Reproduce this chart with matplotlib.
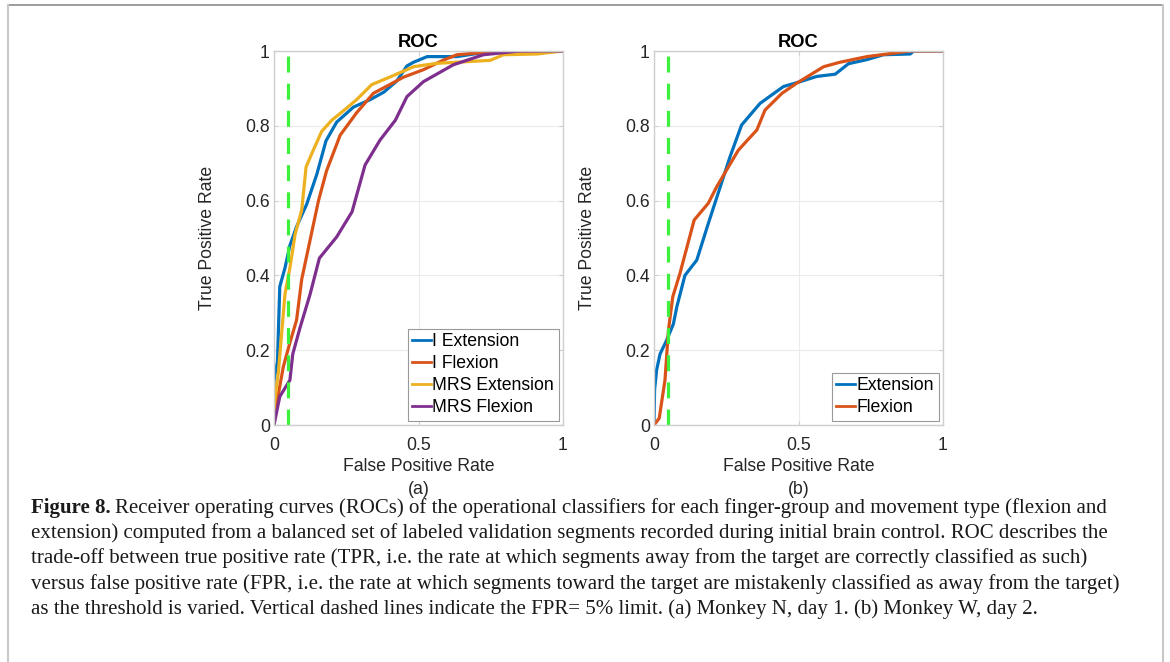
import matplotlib
matplotlib.use('Agg')

import matplotlib.pyplot as plt
from matplotlib.lines import Line2D

plt.rcParams['font.family'] = ['Liberation Sans', 'DejaVu Sans']

# Panel (a): Monkey N, day 1
aIExtFpr = [0, 0, 0.012, 0.02, 0.038, 0.055, 0.078, 0.113, 0.148, 0.18, 0.217, 0.275, 0.333,
            0.38, 0.425, 0.46, 0.483, 0.53, 0.633, 0.725, 1.0]
aIExtTpr = [0, 0.12, 0.17, 0.37, 0.42, 0.48, 0.53, 0.59, 0.67, 0.76, 0.81, 0.85, 0.87,
            0.89, 0.92, 0.96, 0.97, 0.985, 0.985, 0.996, 1.0]

aIFlxFpr = [0, 0.01, 0.032, 0.055, 0.078, 0.096, 0.125, 0.154, 0.182, 0.229, 0.286, 0.344,
            0.4, 0.448, 0.517, 0.587, 0.633, 0.725, 1.0]
aIFlxTpr = [0, 0.06, 0.155, 0.22, 0.28, 0.39, 0.495, 0.60, 0.68, 0.775, 0.835, 0.887,
            0.91, 0.93, 0.95, 0.976, 0.99, 0.996, 1.0]

aMExtFpr = [0, 0, 0.015, 0.027, 0.038, 0.055, 0.073, 0.096, 0.111, 0.136, 0.165, 0.2, 0.24,
            0.286, 0.338, 0.4, 0.483, 0.563, 0.633, 0.748, 0.794, 0.91, 1.0]
aMExtTpr = [0, 0.05, 0.14, 0.25, 0.35, 0.42, 0.51, 0.575, 0.69, 0.735, 0.785, 0.815, 0.84,
            0.87, 0.91, 0.93, 0.958, 0.967, 0.97, 0.975, 0.99, 0.992, 1.0]

aMFlxFpr = [0, 0.02, 0.055, 0.065, 0.09, 0.125, 0.157, 0.217, 0.27, 0.315, 0.367, 0.42,
            0.46, 0.517, 0.62, 0.725, 0.85, 1.0]
aMFlxTpr = [0, 0.076, 0.12, 0.19, 0.26, 0.35, 0.446, 0.503, 0.57, 0.695, 0.762, 0.815,
            0.878, 0.918, 0.963, 0.99, 1.0, 1.0]

# Panel (b): Monkey W, day 2
bExtFpr = [0, 0.002, 0.009, 0.021, 0.044, 0.067, 0.079, 0.107, 0.148, 0.188, 0.263, 0.303,
           0.367, 0.448, 0.506, 0.563, 0.627, 0.673, 0.737, 0.794, 0.887, 0.898, 1.0]
bExtTpr = [0, 0.094, 0.147, 0.19, 0.227, 0.27, 0.316, 0.40, 0.441, 0.539, 0.717, 0.802,
           0.86, 0.905, 0.918, 0.932, 0.938, 0.966, 0.977, 0.99, 0.992, 1.0, 1.0]

bFlxFpr = [0, 0.018, 0.038, 0.05, 0.065, 0.09, 0.139, 0.188, 0.217, 0.292, 0.356, 0.384,
           0.443, 0.494, 0.587, 0.644, 0.737, 0.887, 1.0]
bFlxTpr = [0, 0.018, 0.12, 0.254, 0.343, 0.406, 0.548, 0.593, 0.637, 0.735, 0.789, 0.842,
           0.887, 0.914, 0.958, 0.97, 0.985, 1.0, 1.0]

fprLimit = 0.05

colors = ['#0072BD', '#D95319', '#EDB120', '#7E2F8E']
green = '#3cf03c'

captionLines = [
    'Receiver operating curves (ROCs) of the operational classifiers for each finger-group and movement type (flexion and',
    'extension) computed from a balanced set of labeled validation segments recorded during initial brain control. ROC describes the',
    'trade-off between true positive rate (TPR, i.e. the rate at which segments away from the target are correctly classified as such)',
    'versus false positive rate (FPR, i.e. the rate at which segments toward the target are mistakenly classified as away from the target)',
    'as the threshold is varied. Vertical dashed lines indicate the FPR= 5% limit. (a) Monkey N, day 1. (b) Monkey W, day 2.',
]

fs = 12.7


def styleAxes(ax, sub):
    ax.set_xlim(0, 1)
    ax.set_ylim(0, 1)
    ax.set_xticks([0, 0.5, 1])
    ax.set_xticklabels(['0', '0.5', '1'])
    ax.set_yticks([0, 0.2, 0.4, 0.6, 0.8, 1])
    ax.set_yticklabels(['0', '0.2', '0.4', '0.6', '0.8', '1'])
    ax.grid(True, color='#ebebeb', linewidth=0.8)
    ax.set_axisbelow(True)
    for s in ax.spines.values():
        s.set_color('#cfcfcf')
        s.set_linewidth(1.0)
    ax.tick_params(direction='in', length=3, width=0.8, color='#cfcfcf',
                   labelcolor='#262626', labelsize=fs, top=True, right=True)
    ax.tick_params(axis='x', pad=8.5)
    ax.tick_params(axis='y', pad=3)
    ax.set_title('ROC', fontsize=13.2, fontweight='bold', pad=3)
    ax.set_xlabel('False Positive Rate\n(%s)' % sub, fontsize=fs, color='#262626',
                  labelpad=3, linespacing=1.45)
    ax.set_ylabel('True Positive Rate', fontsize=fs, color='#262626', labelpad=21)


def addLegend(ax):
    leg = ax.legend(loc='lower right', fontsize=fs, handlelength=1.05, handletextpad=0.1,
                    labelspacing=0.28, borderpad=0.25, borderaxespad=0.25, fancybox=False,
                    edgecolor='#9a9a9a', framealpha=1)
    leg.get_frame().set_linewidth(0.8)
    for h in leg.get_lines():
        h.set_linewidth(2.0)


def main():
    fig = plt.figure(figsize=(11.7, 6.62), dpi=100)
    lw = 2.3

    axA = fig.add_axes([274 / 1170, 1 - 425 / 662, 289 / 1170, 374 / 662])
    axA.plot(aIExtFpr, aIExtTpr, color=colors[0], lw=lw, label='I Extension')
    axA.plot(aIFlxFpr, aIFlxTpr, color=colors[1], lw=lw, label='I Flexion')
    axA.plot(aMExtFpr, aMExtTpr, color=colors[2], lw=lw, label='MRS Extension')
    axA.plot(aMFlxFpr, aMFlxTpr, color=colors[3], lw=lw, label='MRS Flexion')
    axA.axvline(fprLimit, color=green, lw=2.3, linestyle=(0, (5, 3.5)))
    styleAxes(axA, 'a')
    addLegend(axA)

    axB = fig.add_axes([654 / 1170, 1 - 425 / 662, 289 / 1170, 374 / 662])
    axB.plot(bExtFpr, bExtTpr, color=colors[0], lw=lw, label='Extension')
    axB.plot(bFlxFpr, bFlxTpr, color=colors[1], lw=lw, label='Flexion')
    axB.axvline(fprLimit, color=green, lw=2.3, linestyle=(0, (5, 3.5)))
    styleAxes(axB, 'b')
    addLegend(axB)

    # Caption.
    capFont = ['Liberation Serif', 'DejaVu Serif']
    capSize = 15.0
    x0 = 31 / 1170
    ys = [508, 533, 558.5, 584, 609]
    renderer = fig.canvas.get_renderer()
    t = fig.text(x0, 1 - ys[0] / 662, 'Figure 8.', family=capFont, fontsize=capSize,
                 fontweight='bold', va='center', color='#1a1a1a')
    bb = t.get_window_extent(renderer)
    fig.text(bb.x1 / 1170 + 4 / 1170, 1 - ys[0] / 662, captionLines[0], family=capFont,
             fontsize=capSize, va='center', color='#1a1a1a')
    for line, y in zip(captionLines[1:], ys[1:]):
        fig.text(x0, 1 - y / 662, line, family=capFont, fontsize=capSize, va='center',
                 color='#1a1a1a')

    # Page frame.
    fig.add_artist(Line2D([7.5 / 1170, 1163 / 1170], [1 - 4.5 / 662, 1 - 4.5 / 662],
                          transform=fig.transFigure, color='#8c8c8c', lw=1.2))
    fig.add_artist(Line2D([7.5 / 1170, 7.5 / 1170], [0, 1 - 4.5 / 662],
                          transform=fig.transFigure, color='#c8c8c8', lw=1.5))
    fig.add_artist(Line2D([1163 / 1170, 1163 / 1170], [0, 1 - 4.5 / 662],
                          transform=fig.transFigure, color='#c8c8c8', lw=1.5))

    fig.savefig('out.png', dpi=100)


if __name__ == '__main__':
    main()
